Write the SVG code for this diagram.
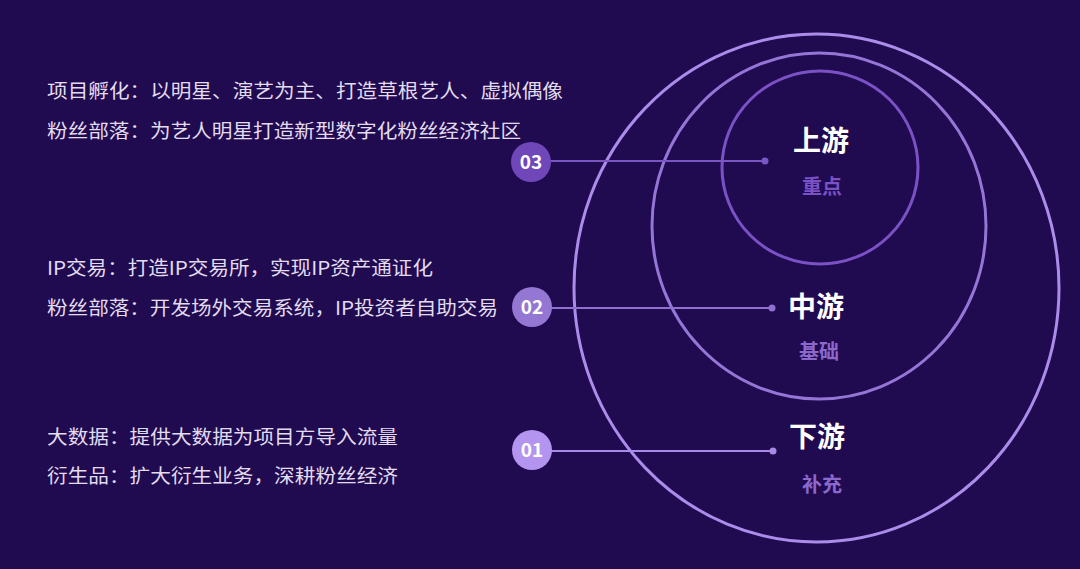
<svg xmlns="http://www.w3.org/2000/svg" width="1080" height="569" viewBox="0 0 1080 569">
<style>
.bg{fill:#200a50}
.desc{font-family:"Noto Sans CJK SC","Noto Sans",sans-serif;font-size:19px;fill:#e2dcee}
.title{font-family:"Noto Sans CJK SC",sans-serif;font-size:28px;font-weight:bold;fill:#ffffff;text-anchor:middle}
.sub{font-family:"Noto Sans CJK SC",sans-serif;font-size:20px;font-weight:bold;text-anchor:middle}
.num{font-family:"Noto Sans CJK SC","DejaVu Sans",sans-serif;font-size:19px;font-weight:bold;fill:#ffffff;text-anchor:middle}
.ring{fill:none;stroke-width:3}
.conn{stroke-width:2;fill:none}
</style>
<rect class="bg" x="0" y="0" width="1080" height="569"/>
<g id="rings">
  <ellipse id="ring-outer" class="ring" cx="816.5" cy="288" rx="242.5" ry="254" stroke="#ab8cea"/>
  <ellipse id="ring-middle" class="ring" cx="819" cy="226" rx="167" ry="173" stroke="#9575d6"/>
  <ellipse id="ring-inner" class="ring" cx="820" cy="167.5" rx="98" ry="96.5" stroke="#7b52c6"/>
</g>
<g id="connectors">
  <line class="conn" x1="531" y1="161" x2="765" y2="161" stroke="#7a55c4"/>
  <circle cx="765" cy="161" r="3.5" fill="#7a55c4"/>
  <line class="conn" x1="531" y1="308" x2="772" y2="308" stroke="#8f70d0"/>
  <circle cx="772" cy="308" r="3.5" fill="#8f70d0"/>
  <line class="conn" x1="531" y1="451" x2="773" y2="451" stroke="#a98ae6"/>
  <circle cx="773" cy="451" r="3.5" fill="#a98ae6"/>
</g>
<g id="node-03">
  <circle cx="531" cy="162" r="20" fill="#6f47b8"/>
  <text class="num" x="531" y="168.5">03</text>
  <text class="desc" x="47" y="98" textLength="516" lengthAdjust="spacingAndGlyphs">项目孵化：以明星、演艺为主、打造草根艺人、虚拟偶像</text>
  <text class="desc" x="47" y="138" textLength="474" lengthAdjust="spacingAndGlyphs">粉丝部落：为艺人明星打造新型数字化粉丝经济社区</text>
</g>
<g id="node-02">
  <circle cx="532" cy="307" r="20" fill="#9476d3"/>
  <text class="num" x="532" y="313.5">02</text>
  <text class="desc" x="47" y="275" textLength="386" lengthAdjust="spacingAndGlyphs">IP交易：打造IP交易所，实现IP资产通证化</text>
  <text class="desc" x="47" y="315" textLength="451" lengthAdjust="spacingAndGlyphs">粉丝部落：开发场外交易系统，IP投资者自助交易</text>
</g>
<g id="node-01">
  <circle cx="532" cy="450" r="20" fill="#b394ee"/>
  <text class="num" x="532" y="456.5">01</text>
  <text class="desc" x="47" y="444" textLength="351" lengthAdjust="spacingAndGlyphs">大数据：提供大数据为项目方导入流量</text>
  <text class="desc" x="47" y="483" textLength="351" lengthAdjust="spacingAndGlyphs">衍生品：扩大衍生业务，深耕粉丝经济</text>
</g>
<g id="label-upstream">
  <text class="title" x="821" y="151">上游</text>
  <text class="sub" x="822" y="194" fill="#7a52c4">重点</text>
</g>
<g id="label-midstream">
  <text class="title" x="816" y="317">中游</text>
  <text class="sub" x="819" y="359" fill="#8a68cc">基础</text>
</g>
<g id="label-downstream">
  <text class="title" x="817" y="447">下游</text>
  <text class="sub" x="822" y="492" fill="#8a68cc">补充</text>
</g>
</svg>
